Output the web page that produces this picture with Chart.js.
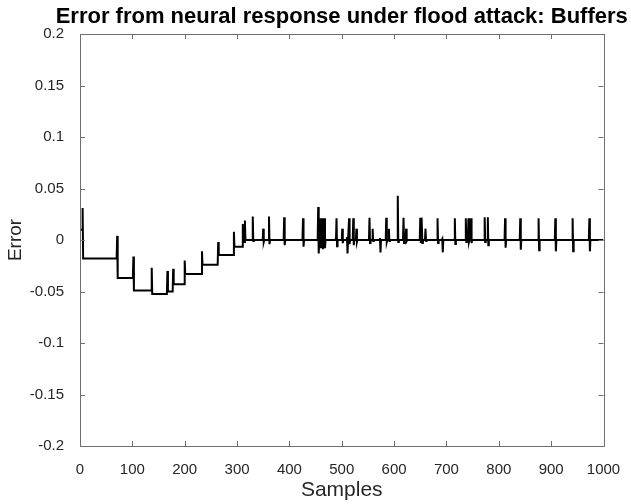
<!DOCTYPE html>
<html>
<head>
<meta charset="utf-8">
<script src="https://cdn.jsdelivr.net/npm/chart.js@4"></script>
<style>
  html, body { margin: 0; padding: 0; background: #fff; }
  #wrap { width: 631px; height: 504px; }
</style>
</head>
<body>
<div id="wrap"><canvas id="errorChart" width="631" height="504"></canvas></div>
<script>
// error signal: starting level, then one event per step / spike
const startLevel = 0.01
const eventSample = [5, 71, 102, 137, 167, 178, 200, 233, 264, 294, 311, 315,
  330, 350, 361, 390, 426, 455, 459, 463, 467, 490, 501, 510, 514, 522, 528,
  553, 559, 573, 585, 590, 607, 618, 623, 650, 653, 660, 683, 692, 716, 737,
  742, 747, 773, 779, 812, 841, 876, 908, 941, 973]
const eventHigh = [0.031, 0.004, -0.016, -0.027, -0.030, -0.028, -0.020, -0.011, -0.002, 0.008, 0.0156, 0.019,
  0.0227, 0.011, 0.0227, 0.022, 0.021, 0.032, 0.021, 0.021, 0.021, 0.021, 0.011, 0.003, 0.021, 0.021, 0.011,
  0.0217, 0.011, 0.002, 0.0217, 0.011, 0.043, 0.0217, 0.011, 0.0217, 0.0217, 0.011, 0.021, 0.001, 0.021, 0.021,
  0.021, 0.021, 0.022, 0.022, 0.021, 0.021, 0.021, 0.021, 0.021, 0.021]
const eventLow = [-0.018, -0.037, -0.049, -0.0525, -0.050, -0.043, -0.033, -0.024, -0.0146, -0.0065, -0.002, 0,
  -0.001, -0.002, -0.004, -0.005, -0.0065, -0.013, -0.008, -0.009, -0.008, -0.006, -0.003, -0.013, -0.004, -0.005, -0.002,
  -0.003, -0.001, -0.012, -0.002, -0.001, -0.002, -0.003, -0.001, -0.003, -0.003, -0.001, -0.003, -0.012, -0.004, -0.002,
  -0.002, -0.003, -0.002, -0.005, -0.0075, -0.0095, -0.010, -0.011, -0.011, -0.011]
const eventLevel = [-0.018, -0.037, -0.049, -0.0525, -0.050, -0.043, -0.033, -0.024, -0.0146, -0.0065, -0.002, 0,
  0, 0, 0, 0, 0, 0, 0, 0, 0, 0, 0, 0, 0, 0, 0,
  0, 0, 0, 0, 0, 0, 0, 0, 0, 0, 0, 0, 0, 0, 0,
  0, 0, 0, 0, 0, 0, 0, 0, 0, 0]
const lastSample = 1000
const chartTitle = 'Error from neural response under flood attack: Buffers'

const font = '"Liberation Sans", Arial, Helvetica, sans-serif'
const axisColor = '#6e6e6e'
const textColor = '#262626'

function buildPoints() {
  const pts = [{ x: 1, y: startLevel }]
  let level = startLevel
  eventSample.forEach((s, i) => {
    pts.push({ x: s - 1, y: level })
    pts.push({ x: s, y: eventHigh[i] })
    pts.push({ x: s + 1, y: eventLow[i] })
    pts.push({ x: s + 2, y: eventLevel[i] })
    level = eventLevel[i]
  })
  pts.push({ x: lastSample, y: level })
  return pts
}

// MATLAB style box with inward ticks on all four sides, title centred on the axes
const boxPlugin = {
  id: 'matlabBox',
  afterDatasetsDraw(chart) {
    const { ctx, chartArea: a, scales } = chart
    const len = 5
    ctx.save()
    ctx.strokeStyle = axisColor
    ctx.lineWidth = 1
    ctx.beginPath()
    scales.x.ticks.forEach((t) => {
      const px = Math.round(scales.x.getPixelForValue(t.value)) + 0.5
      ctx.moveTo(px, a.bottom); ctx.lineTo(px, a.bottom - len)
      ctx.moveTo(px, a.top); ctx.lineTo(px, a.top + len)
    })
    scales.y.ticks.forEach((t) => {
      const py = Math.round(scales.y.getPixelForValue(t.value)) + 0.5
      ctx.moveTo(a.left, py); ctx.lineTo(a.left + len, py)
      ctx.moveTo(a.right, py); ctx.lineTo(a.right - len, py)
    })
    ctx.stroke()
    ctx.strokeRect(Math.round(a.left) + 0.5, Math.round(a.top) + 0.5,
      Math.round(a.right - a.left), Math.round(a.bottom - a.top))

    ctx.fillStyle = '#000'
    ctx.font = 'bold 22px ' + font
    ctx.textAlign = 'center'
    ctx.textBaseline = 'middle'
    ctx.fillText(chartTitle, (a.left + a.right) / 2, 17)
    ctx.restore()
  },
}

new Chart(document.getElementById('errorChart').getContext('2d'), {
  type: 'line',
  data: {
    datasets: [
      {
        label: 'Error',
        data: buildPoints(),
        borderColor: '#000',
        borderWidth: 2,
        pointRadius: 0,
        tension: 0,
        fill: false,
      },
    ],
  },
  options: {
    responsive: false,
    animation: false,
    layout: { padding: { left: 0, right: 27.5, top: 34, bottom: 0 } },
    scales: {
      x: {
        type: 'linear',
        min: 0,
        max: 1000,
        ticks: {
          stepSize: 100,
          padding: 7,
          color: textColor,
          font: { family: font, size: 15 },
          maxRotation: 0,
          callback: (v) => String(v),
        },
        grid: { display: false },
        border: { display: false },
        title: { display: true, text: 'Samples', color: textColor, font: { family: font, size: 21 }, padding: { top: 0, bottom: 1.5 } },
        afterFit(scale) { scale.height = 58 },
      },
      y: {
        min: -0.2,
        max: 0.2,
        ticks: {
          stepSize: 0.05,
          padding: 8,
          color: textColor,
          font: { family: font, size: 15 },
          callback: (v) => String(+v.toFixed(2)),
        },
        grid: { display: false },
        border: { display: false },
        title: { display: true, text: 'Error', color: textColor, font: { family: font, size: 19 }, padding: { top: 4, bottom: 0 } },
        afterFit(scale) { scale.width = 80 },
      },
    },
    plugins: {
      legend: { display: false },
      tooltip: { enabled: false },
      title: { display: false },
    },
  },
  plugins: [boxPlugin],
})
</script>
</body>
</html>
